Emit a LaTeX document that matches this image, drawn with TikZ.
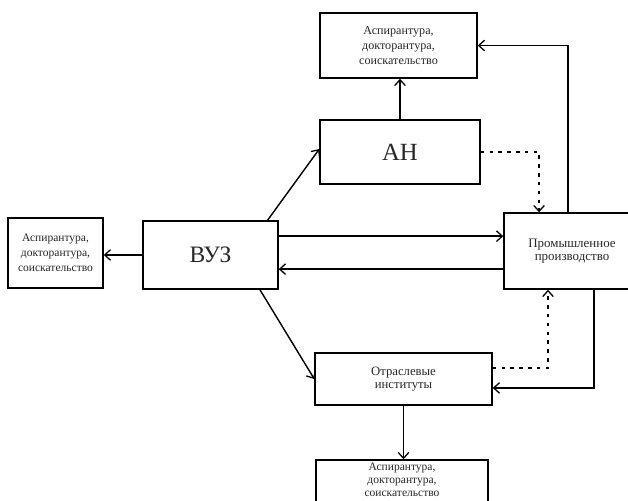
\documentclass[tikz,border=0pt]{standalone}
\usepackage{fontspec}
\setmainfont{Liberation Serif}
\usetikzlibrary{arrows.meta,calc}
\begin{document}
\begin{tikzpicture}[x=0.85pt,y=-0.85pt,
  box/.style={draw,line width=1.2pt,align=center,inner sep=0pt,text=black!85},
  small/.style={font=\fontsize{10.3}{12.8}\selectfont},
  conn/.style={line width=1.2pt,-{Straight Barb[length=5pt,width=9pt,line width=1.1pt]}},
  dotconn/.style={conn,dash pattern=on 3pt off 4.5pt}]
\useasboundingbox (0,0) rectangle (628,501);
\clip (0,0) rectangle (628,501);
\node[box,small,minimum width=157*0.85pt,minimum height=65*0.85pt] (tb) at (398.5,45.5)
  {Аспирантура,\\докторантура,\\соискательство};
\node[box,minimum width=160*0.85pt,minimum height=64*0.85pt,font=\fontsize{21}{24}\selectfont] (an) at (400,152) {АН};
\node[box,minimum width=135*0.85pt,minimum height=68*0.85pt,font=\fontsize{20}{24}\selectfont] (vuz) at (210.5,255) {ВУЗ};
\node[box,font=\fontsize{9.8}{12.8}\selectfont,minimum width=95*0.85pt,minimum height=70*0.85pt] (lb) at (55.5,253)
  {Аспирантура,\\докторантура,\\соискательство};
\node[box,minimum width=136*0.85pt,minimum height=76*0.85pt,font=\fontsize{11}{11.5}\selectfont] (prom) at (572,251)
  {Промышленное\\производство};
\node[box,minimum width=177*0.85pt,minimum height=52*0.85pt,font=\fontsize{10.8}{11.5}\selectfont] (otr) at (403.5,379)
  {Отраслевые\\институты};
\node[box,minimum width=172*0.85pt,minimum height=64*0.85pt] (bb) at (402,492) {};
\node[font=\fontsize{9.8}{10.8}\selectfont,align=center,anchor=north,inner sep=0pt,text=black!85] (bbt) at (402,463)
  {Аспирантура,\\докторантура,\\соискательство};

\coordinate (v1) at ([yshift=16pt]vuz.east);
\coordinate (p1) at ([yshift=-12pt]vuz.east);

\draw[conn] (an.north) -- (an.north |- tb.south);
\draw[conn] ([xshift=-3.4pt]prom.north) |- (tb.east);
\draw[dotconn] (an.east) -| ([xshift=-28pt]prom.north);
\draw[conn] ([xshift=-9.5pt]vuz.north east) -- ([yshift=2.5pt]an.west);
\draw[conn] (v1) -- (v1 -| prom.west);
\draw[conn] (p1 -| prom.west) -- (p1);
\draw[conn] (vuz.west) -- (vuz.west -| lb.east);
\draw[conn] ([xshift=42pt]vuz.south) -- (otr.west);
\draw[conn] ([xshift=18.7pt]prom.south) |- ([yshift=-7.6pt]otr.east);
\draw[dotconn] ([yshift=9.35pt]otr.east) -| ([xshift=-20.4pt]prom.south);
\draw[conn] (otr.south) -- (otr.south |- bb.north);
\end{tikzpicture}
\end{document}
